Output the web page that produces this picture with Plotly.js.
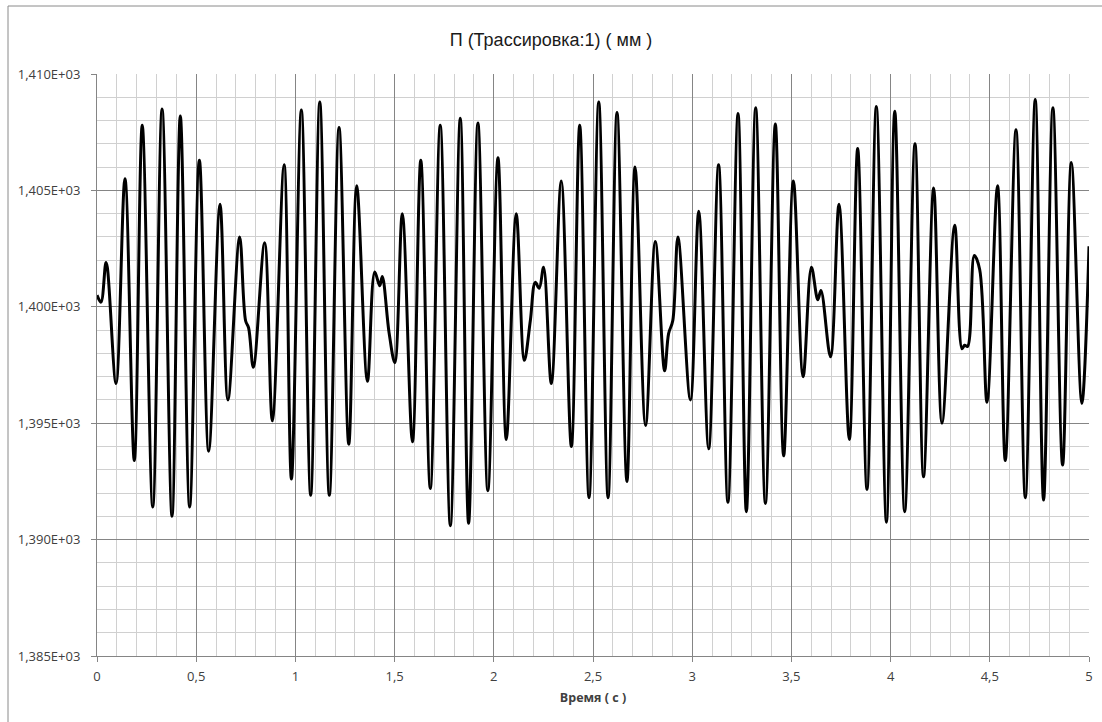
<!DOCTYPE html>
<html>
<head>
<meta charset="utf-8">
<script src="https://cdn.plot.ly/plotly-3.0.1.min.js"></script>
<style>
html,body{margin:0;padding:0;background:#fff;}
#chart{width:1102px;height:722px;}
</style>
</head>
<body>
<div id="chart"></div>
<script>
var timeS = [
0.000,0.020,0.045,0.052,0.096,0.141,0.188,0.228,0.281,0.328,0.378,0.420,0.467,0.516,0.563,0.620,0.660,0.719,0.749,0.764,0.788,
0.845,0.884,0.943,0.980,1.030,1.077,1.123,1.171,1.220,1.269,1.309,1.363,1.400,1.425,1.438,1.472,1.501,
1.539,1.590,1.632,1.680,1.730,1.781,1.831,1.873,1.920,1.970,2.021,2.063,2.113,2.154,2.184,2.209,2.229,2.251,
2.290,2.340,2.391,2.433,2.480,2.529,2.576,2.621,2.671,2.712,2.765,2.814,2.861,2.881,2.902,2.928,
2.991,3.033,3.083,3.133,3.180,3.231,3.273,3.320,3.369,3.419,3.461,3.510,3.559,3.601,3.633,3.649,
3.697,3.740,3.792,3.834,3.881,3.928,3.979,4.021,4.071,4.123,4.166,4.217,4.259,4.323,4.360,4.373,4.388,
4.422,4.449,4.486,4.539,4.578,4.632,4.679,4.729,4.771,4.818,4.867,4.911,4.964,5.000
];
// Displacement П (mm)
var valueMM = [
1400.5,1400.2,1401.9,1401.7,1396.7,1405.5,1393.4,1407.8,1391.4,1408.5,1391.0,1408.2,1391.4,1406.3,1393.8,1404.4,1396.0,1403.0,1399.4,1399.1,1397.4,
1402.75,1395.1,1406.1,1392.6,1408.45,1391.9,1408.8,1391.9,1407.7,1394.1,1405.2,1396.8,1401.5,1400.9,1401.3,1398.9,1397.6,
1404.0,1394.2,1406.3,1392.2,1407.8,1390.6,1408.1,1390.7,1407.9,1392.1,1406.4,1394.3,1404.0,1397.7,1399.4,1401.05,1400.8,1401.7,
1396.7,1405.4,1394.0,1407.8,1391.8,1408.8,1391.8,1408.35,1392.5,1406.0,1394.9,1402.8,1397.25,1398.85,1399.4,1403.0,
1396.0,1404.1,1393.9,1406.1,1391.6,1408.3,1391.2,1408.55,1391.55,1407.85,1393.6,1405.4,1397.0,1401.7,1400.3,1400.7,
1397.85,1404.4,1394.3,1406.8,1392.15,1408.6,1390.75,1408.4,1391.2,1407.0,1392.7,1405.1,1395.0,1403.5,1398.2,1398.35,1398.3,
1402.2,1401.6,1395.9,1405.2,1393.4,1407.6,1391.8,1408.9,1391.7,1408.55,1393.2,1406.2,1395.85,1402.6
];
var xTickVals = [0,0.5,1,1.5,2,2.5,3,3.5,4,4.5,5];
var xTickText = ['0','0,5','1','1,5','2','2,5','3','3,5','4','4,5','5'];
var yTickVals = [1385,1390,1395,1400,1405,1410];
var yTickText = ['1,385E+03','1,390E+03','1,395E+03','1,400E+03','1,405E+03','1,410E+03'];

var tickFont = {family:'"Open Sans", sans-serif', size:13, color:'#404040'};
var majorGrid = '#858585', minorGrid = '#d0d0d0';

var trace = {
  x: timeS, y: valueMM, type:'scatter', mode:'lines',
  line:{color:'#000000', width:3, shape:'spline', smoothing:1},
  hoverinfo:'skip'
};

var layout = {
  width:1102, height:722,
  margin:{l:97, r:13, t:74, b:66, pad:0},
  paper_bgcolor:'#ffffff', plot_bgcolor:'#ffffff',
  showlegend:false,
  title:{text:'П (Трассировка:1) ( мм )', x:0.5, xref:'container', xanchor:'center',
         y:1-40/722, yref:'container', yanchor:'middle',
         font:{family:'Liberation Sans, Arial, sans-serif', size:18, color:'#1a1a1a'}},
  xaxis:{range:[0,5], tickmode:'array', tickvals:xTickVals, ticktext:xTickText,
         showgrid:true, gridcolor:majorGrid, gridwidth:1, zeroline:false,
         showline:true, linecolor:majorGrid, linewidth:1,
         ticks:'outside', ticklen:5, tickcolor:majorGrid, tickwidth:1, ticklabelstandoff:3,
         minor:{tick0:0, dtick:0.1, showgrid:true, gridcolor:minorGrid, gridwidth:1, ticks:''},
         tickfont:tickFont, automargin:false,
         title:{text:'<b>Время ( с )</b>', standoff:9, font:{family:'"Open Sans", sans-serif', size:12.5, color:'#404040'}}},
  yaxis:{range:[1385,1410], tickmode:'array', tickvals:yTickVals, ticktext:yTickText,
         showgrid:true, gridcolor:majorGrid, gridwidth:1, zeroline:false,
         showline:true, linecolor:majorGrid, linewidth:1,
         ticks:'outside', ticklen:5, tickcolor:majorGrid, tickwidth:1, ticklabelstandoff:8,
         minor:{tick0:1385, dtick:1, showgrid:true, gridcolor:minorGrid, gridwidth:1, ticks:''},
         tickfont:tickFont, automargin:false},
  shapes:[
    {type:'line', xref:'paper', yref:'paper', x0:(8-97)/992, x1:(8-97)/992, y0:-0.2, y1:(656-6)/582, line:{color:'#8a8a8a', width:1}},
    {type:'line', xref:'paper', yref:'paper', x0:(8-97)/992, x1:1.1, y0:(656-6)/582, y1:(656-6)/582, line:{color:'#8a8a8a', width:1}}
  ]
};

Plotly.newPlot('chart', [trace], layout, {staticPlot:true, displayModeBar:false});
</script>
</body>
</html>
